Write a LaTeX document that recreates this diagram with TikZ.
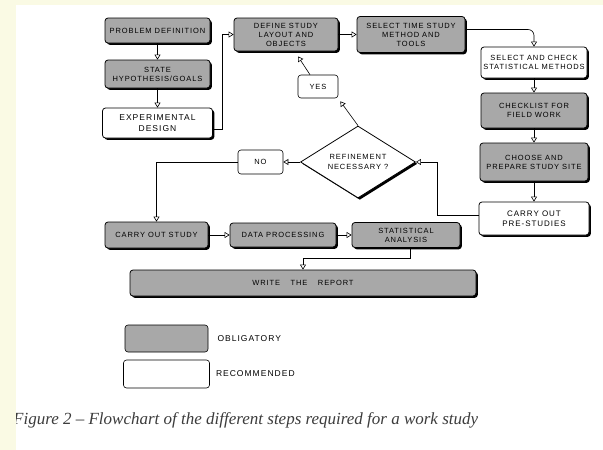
\documentclass[tikz,border=0pt]{standalone}
\usepackage{fontspec}
\newfontfamily\handfont[LetterSpace=12]{Liberation Sans}
\newfontfamily\capfont{Liberation Serif}
\usepackage{tikz}
\usetikzlibrary{positioning,shapes.geometric,shadows,arrows.meta}

\definecolor{boxgray}{RGB}{168,168,168}
\definecolor{pagebg}{RGB}{250,250,228}
\definecolor{capgray}{RGB}{60,60,60}

\tikzset{
  box/.style={draw, line width=0.8pt, rounded corners=3pt, align=center, inner sep=1pt,
              font=\handfont\fontsize{7.5}{9}\selectfont},
  hardshadow/.style={drop shadow={shadow xshift=1.8pt, shadow yshift=-1.8pt, fill=black, opacity=1}},
  oblig/.style={box, fill=boxgray, hardshadow},
  recom/.style={box, fill=white, hardshadow},
  tag/.style={box, fill=white, line width=0.6pt},
  key/.style={draw, line width=0.6pt, rounded corners=3pt},
  keytext/.style={font=\handfont\fontsize{8.5}{10}\selectfont, inner sep=0pt},
  arr/.style={line width=0.6pt, -{Triangle[open, length=5pt, width=6pt]}},
}

\begin{document}
\begin{tikzpicture}[x=1pt, y=-1pt]
\fill[white] (0,0) rectangle (603,450);
\useasboundingbox (0,0) rectangle (603,450);

%nodes

\node (prob)  [oblig, minimum width=105pt, minimum height=25pt] at (157.5,30.5) {PROBLEM DEFINITION};
\node (hyp)   [oblig, below of=prob, node distance=43.5pt, minimum width=105pt, minimum height=28pt] {STATE\\HYPOTHESIS/GOALS};
\node (expd)  [recom, below of=hyp, node distance=49pt, minimum width=110pt, minimum height=30pt,
               font=\handfont\fontsize{8.5}{10.5}\selectfont] {EXPERIMENTAL\\DESIGN};

\node (layout)[oblig, minimum width=104pt, minimum height=33pt] at (286,34.5) {DEFINE STUDY\\LAYOUT AND\\OBJECTS};
\node (tools) [oblig, right of=layout, node distance=125pt, minimum width=108pt, minimum height=36pt] {SELECT TIME STUDY\\METHOD AND\\TOOLS};

\node (statm) [recom, minimum width=106pt, minimum height=31pt] at (534,62.5) {SELECT AND CHECK\\STATISTICAL METHODS};
\node (check) [oblig, below of=statm, node distance=48pt, minimum width=106pt, minimum height=35pt] {CHECKLIST FOR\\FIELD WORK};
\node (site)  [oblig, below of=check, node distance=51.5pt, minimum width=108pt, minimum height=38pt] {CHOOSE AND\\PREPARE STUDY SITE};
\node (pre)   [recom, below of=site, node distance=56.5pt, minimum width=110pt, minimum height=33pt,
               font=\handfont\fontsize{8}{10}\selectfont] {CARRY OUT\\PRE-STUDIES};

\node (dia)   [diamond, draw, line width=0.8pt, fill=white, aspect=1.6, inner sep=0pt,
               minimum width=115pt, minimum height=72pt, hardshadow, align=center,
               font=\handfont\fontsize{7.5}{9.5}\selectfont] at (358,162) {REFINEMENT\\NECESSARY ?};
\node (yes)   [tag, minimum width=40pt, minimum height=23pt] at (318,86.5) {YES};
\node (no)    [tag, left of=dia, node distance=97.5pt, minimum width=45pt, minimum height=24pt] {NO};

\node (study) [oblig, minimum width=103pt, minimum height=26pt] at (156.5,235) {CARRY OUT STUDY};
\node (proc)  [oblig, right of=study, node distance=126.5pt, minimum width=106pt, minimum height=24pt] {DATA PROCESSING};
\node (stat)  [oblig, right of=proc, node distance=123pt, minimum width=108pt, minimum height=25pt] {STATISTICAL\\ANALYSIS};
\node (report)[oblig, minimum width=346pt, minimum height=26pt] at (303,283) {WRITE \quad THE \quad REPORT};

%legend
\node (lgob)    [key, fill=boxgray, minimum width=83pt, minimum height=27pt] at (166.5,338.5) {};
\node (lgrec)   [key, fill=white, below of=lgob, node distance=35.5pt, minimum width=86pt, minimum height=28pt] {};
\node (lgobtxt) [keytext, right=9pt of lgob]  {OBLIGATORY};
\node (lgrectxt)[keytext, right=6pt of lgrec] {RECOMMENDED};

\node (caption) [anchor=west, inner sep=0pt, text=capgray,
                 font=\capfont\itshape\fontsize{17}{19}\selectfont] at (13,420)
                {Figure 2 – Flowchart of the different steps required for a work study};

%links
\draw[arr] (prob) to (hyp);
\draw[arr] (hyp) to (expd);
\draw[arr] ([yshift=-6pt]expd.east) -- ++(9,0) |- (layout.west);
\draw[arr] (layout) to (tools);
\draw[arr, rounded corners=6pt] ([yshift=5pt]tools.east) -| (statm.north);
\draw[arr] (statm) to (check);
\draw[arr] (check) to (site);
\draw[arr] (site) to (pre);
\draw[arr] ([yshift=3pt]pre.west) -- ++(-41,0) |- (dia.east);
\draw[arr] (dia.north) to ([xshift=2pt, yshift=-3pt]yes.south east);
\draw[arr] ([xshift=-8pt]yes.north) to ([xshift=12pt, yshift=-5pt]layout.south);
\draw[arr] (dia.west) to (no.east);
\draw[arr] (no.west) -| (study.north);
\draw[arr] (study) to (proc);
\draw[arr] (proc) to (stat);
\draw[arr] ([xshift=4pt]stat.south) -- ++(0,10) -| (report.north);

%page edge
\fill[pagebg] (0,0) rectangle (16,450);
\fill[pagebg] (0,0) rectangle (603,5);
\end{tikzpicture}
\end{document}
